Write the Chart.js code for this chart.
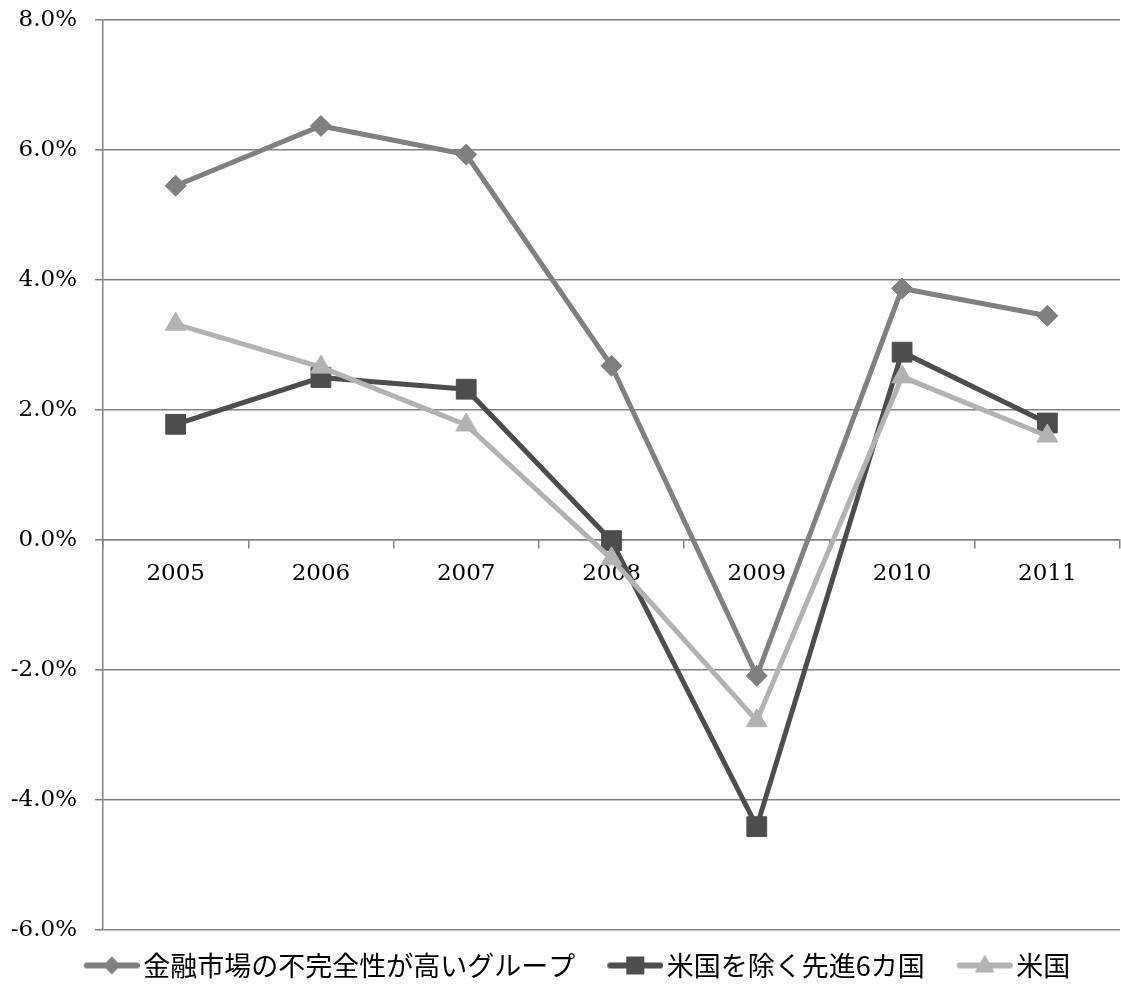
<!DOCTYPE html>
<html>
<head>
<meta charset="utf-8">
<script src="https://cdn.jsdelivr.net/npm/chart.js@4.4.1/dist/chart.umd.min.js"></script>
<style>
  html, body { margin: 0; padding: 0; background: #ffffff; }
  #wrap { width: 1121px; height: 999px; position: relative; }
</style>
</head>
<body>
<div id="wrap"><canvas id="c" width="1121" height="999"></canvas></div>
<script>
// ---- data ----
const categories = ['2005', '2006', '2007', '2008', '2009', '2010', '2011'];
const seriesNames = ['金融市場の不完全性が高いグループ', '米国を除く先進6カ国', '米国'];
const highImperfection = [5.45, 6.37, 5.93, 2.68, -2.09, 3.87, 3.45];
const advanced6exUS = [1.78, 2.50, 2.32, -0.01, -4.41, 2.89, 1.80];
const unitedStates = [3.32, 2.66, 1.77, -0.29, -2.78, 2.51, 1.60];
const yTickValues = [-6, -4, -2, 0, 2, 4, 6, 8];

const colors = ['#808080', '#4d4d4d', '#b2b2b2'];
const styles = ['rectRot', 'rect', 'triangle'];
const radii = [10.5, 14, 12];

function legendImage(color, style) {
  const W = 76, H = 30, cv = document.createElement('canvas');
  cv.width = W; cv.height = H;
  const g = cv.getContext('2d');
  g.strokeStyle = color; g.lineWidth = 6; g.lineCap = 'round';
  g.beginPath(); g.moveTo(23, H / 2); g.lineTo(W - 3, H / 2); g.stroke();
  g.fillStyle = color;
  const cx = 48, cy = H / 2;
  g.beginPath();
  if (style === 'rectRot') {
    g.moveTo(cx, cy - 9); g.lineTo(cx + 9, cy); g.lineTo(cx, cy + 9); g.lineTo(cx - 9, cy); g.closePath();
  } else if (style === 'rect') {
    g.rect(cx - 9, cy - 9, 18, 18);
  } else {
    g.moveTo(cx, cy - 11); g.lineTo(cx + 10, cy + 7); g.lineTo(cx - 10, cy + 7); g.closePath();
  }
  g.fill();
  return cv;
}

const seriesData = [highImperfection, advanced6exUS, unitedStates];
const datasets = seriesData.map((d, i) => ({
  label: seriesNames[i],
  data: d,
  borderColor: colors[i],
  backgroundColor: colors[i],
  borderWidth: 5,
  pointStyle: styles[i],
  pointRadius: radii[i],
  pointHoverRadius: radii[i],
  pointBackgroundColor: colors[i],
  pointBorderColor: colors[i],
  pointBorderWidth: 1,
  tension: 0,
  order: 3 - i,
  clip: false
}));

const legendFitPlugin = {
  id: 'legendFit',
  beforeLayout(chart) {
    const lg = chart.legend;
    if (lg && !lg._patched) {
      const origFit = lg.fit;
      lg.fit = function () { origFit.call(this); this.height = 69; };
      const origDraw = lg.draw;
      lg.draw = function () {
        const l = this.left, r = this.right;
        this.left += 12; this.right += 12;
        origDraw.apply(this, arguments);
        this.left = l; this.right = r;
      };
      lg._patched = true;
    }
  }
};

const serif = "'DejaVu Serif', 'Liberation Serif', serif";

new Chart(document.getElementById('c'), {
  type: 'line',
  data: { labels: categories, datasets },
  plugins: [legendFitPlugin],
  options: {
    responsive: false,
    animation: false,
    devicePixelRatio: 1,
    layout: { autoPadding: false, padding: { top: 20, right: 1, left: 0, bottom: 0 } },
    plugins: {
      tooltip: { enabled: false },
      legend: {
        display: true,
        position: 'bottom',
        align: 'center',
        labels: {
          usePointStyle: true,
          pointStyleWidth: 56,
          padding: 22,
          color: '#000000',
          font: { family: "'Noto Sans CJK JP', sans-serif", size: 27 },
          generateLabels(chart) {
            return chart.data.datasets.map((ds, i) => ({
              text: ds.label,
              pointStyle: legendImage(colors[i], styles[i]),
              fillStyle: colors[i],
              strokeStyle: colors[i],
              lineWidth: 0,
              fontColor: '#000000',
              hidden: false,
              datasetIndex: i
            }));
          }
        }
      }
    },
    scales: {
      x: {
        type: 'category',
        position: { y: 0 },
        offset: true,
        afterFit(scale) { scale.paddingLeft = 0; scale.paddingRight = 0; },
        grid: {
          offset: true,
          drawOnChartArea: false,
          drawTicks: true,
          tickLength: 8,
          color: '#808080',
          lineWidth: 1.5
        },
        border: { display: true, color: '#808080', width: 1.5 },
        ticks: {
          padding: 12,
          color: '#000000',
          maxRotation: 0,
          autoSkip: false,
          font: { family: serif, size: 23 }
        }
      },
      y: {
        min: -6,
        max: 8,
        afterBuildTicks(scale) { scale.ticks = yTickValues.map(v => ({ value: v })); },
        afterFit(scale) { scale.width = 103; scale.paddingTop = 0; scale.paddingBottom = 0; },
        grid: {
          color: '#808080',
          lineWidth: 1.5,
          tickLength: 8,
          drawTicks: true
        },
        border: { display: true, color: '#808080', width: 1.5 },
        ticks: {
          padding: 18,
          color: '#000000',
          font: { family: serif, size: 23 },
          callback: (v) => Number(v).toFixed(1) + '%'
        }
      }
    }
  }
});
</script>
</body>
</html>
